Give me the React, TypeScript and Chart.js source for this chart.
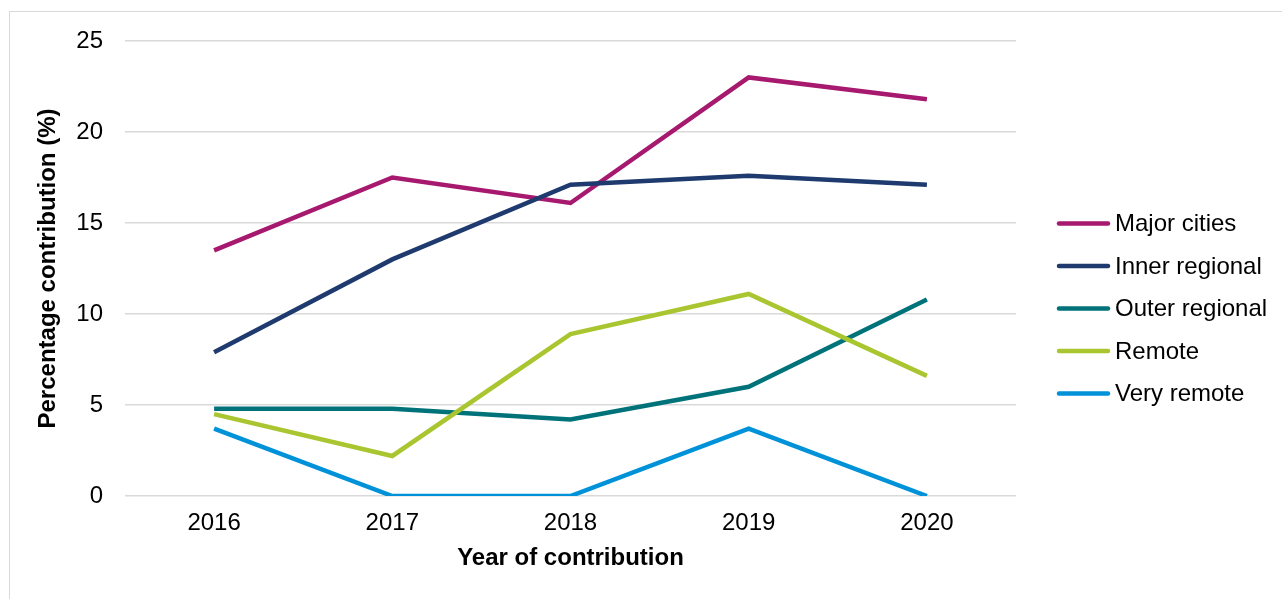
import React, { useEffect, useRef } from "react";
import { Chart, registerables } from "chart.js";

Chart.register(...registerables);

const years = ["2016", "2017", "2018", "2019", "2020"];
const seriesNames = ["Major cities", "Inner regional", "Outer regional", "Remote", "Very remote"];
const majorCities = [13.5, 17.5, 16.1, 23.0, 21.8];
const innerRegional = [7.9, 13.0, 17.1, 17.6, 17.1];
const outerRegional = [4.8, 4.8, 4.2, 6.0, 10.8];
const remote = [4.5, 2.2, 8.9, 11.1, 6.6];
const veryRemote = [3.7, 0, 0, 3.7, 0];
const seriesColors = ["#A6196E", "#1E3A6E", "#00737A", "#A9C52F", "#0092D8"];
const yTicks = [0, 5, 10, 15, 20, 25];

const FONT = "'Liberation Sans', Arial, sans-serif";

const legendPlugin = {
  id: "customLegend",
  afterDraw(chart: any) {
    const { ctx, chartArea } = chart;
    const n = chart.data.datasets.length;
    const spacing = 42.5;
    const cy = 296.5;
    const x0 = chartArea.right + 41;
    ctx.save();
    chart.data.datasets.forEach((ds: any, i: number) => {
      const y = cy + (i - (n - 1) / 2) * spacing;
      ctx.strokeStyle = ds.borderColor;
      ctx.lineWidth = 4.5;
      ctx.lineCap = "round";
      ctx.beginPath();
      ctx.moveTo(x0 + 2, y);
      ctx.lineTo(x0 + 51, y);
      ctx.stroke();
      ctx.fillStyle = "#000";
      ctx.font = `24px ${FONT}`;
      ctx.textBaseline = "middle";
      ctx.textAlign = "left";
      ctx.fillText(ds.label, x0 + 58, y + 1);
    });
    ctx.restore();
  },
};

export default function App() {
  const ref = useRef<HTMLCanvasElement | null>(null);
  useEffect(() => {
    if (!ref.current) return;
    const values = [majorCities, innerRegional, outerRegional, remote, veryRemote];
    const chart = new Chart(ref.current, {
      type: "line",
      data: {
        labels: years,
        datasets: values.map((v, i) => ({
          label: seriesNames[i],
          data: v,
          borderColor: seriesColors[i],
          backgroundColor: seriesColors[i],
          borderWidth: 4.5,
          pointRadius: 0,
          tension: 0,
          fill: false,
          order: values.length - i,
        })),
      },
      options: {
        responsive: false,
        animation: false,
        devicePixelRatio: 1,
        layout: { padding: { top: 29, right: 266, bottom: 0, left: 0 } },
        plugins: { legend: { display: false }, tooltip: { enabled: false } },
        scales: {
          x: {
            offset: true,
            grid: { display: false, drawTicks: false },
            border: { display: false },
            ticks: { color: "#000", font: { family: FONT, size: 24 }, padding: 13 },
            title: {
              display: true,
              text: "Year of contribution",
              color: "#000",
              font: { family: FONT, size: 24, weight: "bold" },
              padding: { top: 0, bottom: 26.6 },
            },
            afterFit(scale: any) {
              scale.height = 103;
              scale.paddingLeft = 0;
              scale.paddingRight = 0;
            },
          },
          y: {
            min: 0,
            max: 25,
            afterBuildTicks(scale: any) {
              scale.ticks = yTicks.map((v) => ({ value: v }));
            },
            grid: { color: "#D9D9D9", lineWidth: 1.5, drawTicks: false },
            border: { display: false },
            ticks: { color: "#000", font: { family: FONT, size: 24 }, padding: 22 },
            title: {
              display: true,
              text: "Percentage contribution (%)",
              color: "#000",
              font: { family: FONT, size: 24, weight: "bold" },
              padding: { top: 24, bottom: 0 },
            },
            afterFit(scale: any) {
              scale.width = 115;
              scale.paddingTop = 0;
              scale.paddingBottom = 0;
            },
          },
        },
      },
      plugins: [legendPlugin],
    });
    return () => chart.destroy();
  }, []);
  return (
    <div
      style={{
        position: "fixed",
        left: 9,
        top: 11,
        width: 1273,
        height: 588,
        borderTop: "1px solid #D9D9D9",
        borderLeft: "1px solid #D9D9D9",
        background: "#fff",
      }}
    >
      <canvas ref={ref} width={1272} height={587} style={{ display: "block" }} />
    </div>
  );
}
